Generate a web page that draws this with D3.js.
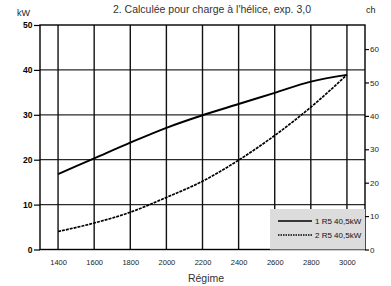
<!DOCTYPE html>
<html>
<head>
<meta charset="utf-8">
<script src="https://cdn.jsdelivr.net/npm/d3@7"></script>
<style>
  body { margin: 0; background: #fff; }
  svg { display: block; font-family: "Liberation Sans", Arial, sans-serif; }
  .narrow { font-family: "Liberation Sans Narrow", "Arial Narrow", "Liberation Sans", sans-serif; }
</style>
</head>
<body>
<div id="chart"></div>
<script>
const rpm = [1400, 1600, 1800, 2000, 2200, 2400, 2600, 2800, 3000];
const curve1 = [16.8, 20.3, 23.8, 27.1, 29.9, 32.4, 34.9, 37.4, 38.9];
const curve2 = [4.0, 5.9, 8.3, 11.6, 15.2, 19.9, 25.4, 31.7, 38.9];
const kwTicks = [0, 10, 20, 30, 40, 50];
const chTicks = [0, 10, 20, 30, 40, 50, 60];
const legendLabels = ["1 R5 40,5kW", "2 R5 40,5kW"];

const width = 391;
const height = 286;
const margin = { top: 25, right: 26, bottom: 36.5, left: 40 };

const svg = d3.select("#chart")
  .append("svg")
  .attr("width", width)
  .attr("height", height);

const x = d3.scaleLinear()
  .domain([1300, 3100])
  .range([margin.left, width - margin.right]);

const y = d3.scaleLinear()
  .domain([0, 50])
  .range([height - margin.bottom, margin.top]);

// right axis in ch, aligned to the picture's spacing
const yCh = d3.scaleLinear()
  .domain([0, 67.2])
  .range([height - margin.bottom, margin.top]);

const x0 = x.range()[0], x1 = x.range()[1];
const yBottom = y(0), yTop = y(50);

// horizontal grid
svg.append("g")
  .selectAll("line")
  .data(kwTicks.filter(d => d > 0 && d < 50))
  .join("line")
  .attr("x1", x0).attr("x2", x1)
  .attr("y1", d => y(d)).attr("y2", d => y(d))
  .attr("stroke", "#2a2a2a")
  .attr("stroke-width", 1.2);

// vertical grid
svg.append("g")
  .selectAll("line")
  .data(rpm)
  .join("line")
  .attr("x1", d => x(d)).attr("x2", d => x(d))
  .attr("y1", yTop).attr("y2", yBottom)
  .attr("stroke", "#111")
  .attr("stroke-width", 1.4);

// frame
svg.append("rect")
  .attr("x", x0).attr("y", yTop)
  .attr("width", x1 - x0).attr("height", yBottom - yTop)
  .attr("fill", "none")
  .attr("stroke", "#000")
  .attr("stroke-width", 1.4);

// left axis
const leftAxis = svg.append("g")
  .attr("transform", `translate(${x0},0)`)
  .call(d3.axisLeft(y).tickValues(kwTicks).tickSize(6).tickPadding(1.5));
leftAxis.select(".domain").remove();
leftAxis.selectAll("line").attr("stroke", "#000").attr("stroke-width", 1.2);
leftAxis.selectAll("text")
  .attr("class", "narrow")
  .style("font-size", "8.5px")
  .style("font-weight", "bold")
  .attr("fill", "#000");

// right axis
const rightAxis = svg.append("g")
  .attr("transform", `translate(${x1},0)`)
  .call(d3.axisRight(yCh).tickValues(chTicks).tickSize(4).tickPadding(1));
rightAxis.select(".domain").remove();
rightAxis.selectAll("line").attr("stroke", "#000").attr("stroke-width", 1.2);
rightAxis.selectAll("text")
  .attr("class", "narrow")
  .style("font-size", "8px")
  .attr("fill", "#222");

// bottom labels
const bottomAxis = svg.append("g")
  .attr("transform", `translate(0,${yBottom})`)
  .call(d3.axisBottom(x).tickValues(rpm).tickFormat(d3.format("d")).tickSize(0).tickPadding(10));
bottomAxis.select(".domain").remove();
bottomAxis.selectAll("text")
  .attr("class", "narrow")
  .style("font-size", "7.5px")
  .attr("fill", "#222");

// legend box
const legendX = 270;
const legendY = 209;
svg.append("rect")
  .attr("x", legendX).attr("y", legendY)
  .attr("width", x1 - legendX).attr("height", yBottom - legendY)
  .attr("fill", "#dcdcdc");

// curves
const line = d3.line()
  .x((d, i) => x(rpm[i]))
  .y(d => y(d))
  .curve(d3.curveMonotoneX);

svg.append("path")
  .datum(curve1)
  .attr("d", line)
  .attr("fill", "none")
  .attr("stroke", "#000")
  .attr("stroke-width", 1.9);

svg.append("path")
  .datum(curve2)
  .attr("d", line)
  .attr("fill", "none")
  .attr("stroke", "#000")
  .attr("stroke-width", 1.7)
  .attr("stroke-dasharray", "3,1");

// legend entries
const legendRows = svg.append("g")
  .selectAll("g")
  .data(legendLabels)
  .join("g")
  .attr("transform", (d, i) => `translate(278,${221 + i * 14})`);

legendRows.append("line")
  .attr("x1", 0).attr("x2", 34)
  .attr("stroke", "#000")
  .attr("stroke-width", (d, i) => i === 0 ? 1.6 : 1.4)
  .attr("stroke-dasharray", (d, i) => i === 0 ? null : "1.5,1");

legendRows.append("text")
  .attr("class", "narrow")
  .attr("x", 37)
  .attr("dy", "0.35em")
  .style("font-size", "8px")
  .attr("fill", "#111")
  .text(d => d);

// titles
svg.append("text")
  .attr("x", 212)
  .attr("y", 13)
  .attr("text-anchor", "middle")
  .style("font-size", "10.5px")
  .attr("fill", "#333")
  .text("2. Calculée pour charge à l'hélice, exp. 3,0");

svg.append("text")
  .attr("x", 17)
  .attr("y", 16)
  .style("font-size", "9px")
  .attr("fill", "#222")
  .text("kW");

svg.append("text")
  .attr("x", 366)
  .attr("y", 13)
  .style("font-size", "9px")
  .attr("fill", "#222")
  .text("ch");

svg.append("text")
  .attr("x", 206)
  .attr("y", 282)
  .attr("text-anchor", "middle")
  .style("font-size", "10.5px")
  .attr("fill", "#333")
  .text("Régime");
</script>
</body>
</html>
